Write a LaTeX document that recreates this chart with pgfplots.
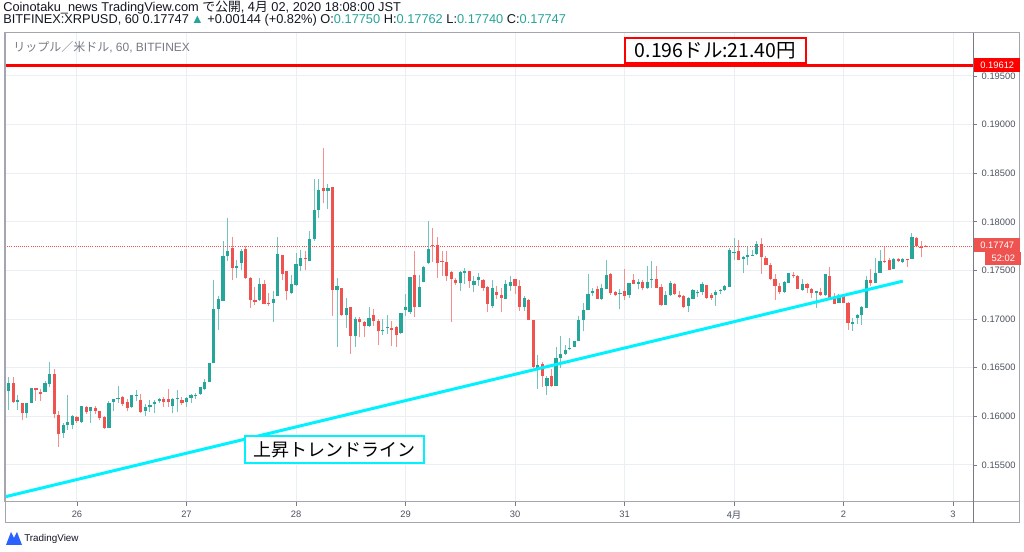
\documentclass[border=0pt]{standalone}
\usepackage{fontspec}
\setmainfont{Liberation Sans}
\newfontfamily\cjk{Noto Sans CJK JP}
\usepackage{pgfplots}
\usepackage{pgfplotstable}
\pgfplotsset{compat=1.18}
\definecolor{tvgreen}{HTML}{26A69A}
\definecolor{tvred}{HTML}{EF5350}
\definecolor{gridc}{HTML}{EAEFF4}
\definecolor{framec}{HTML}{A3A6AF}
\definecolor{axc}{HTML}{787B86}
\definecolor{txtc}{HTML}{131722}
\definecolor{lblc}{HTML}{4C525E}
\definecolor{tvcyan}{HTML}{00F2FF}
\definecolor{tvblue}{HTML}{2962FF}
\pgfplotstableread{
h O H L C
-15 0.16262 0.16402 0.16070 0.16343
-14 0.16343 0.16402 0.16140 0.16147
-13 0.16150 0.16220 0.16070 0.16168
-12 0.16133 0.16140 0.15958 0.16035
-11 0.16035 0.16140 0.15982 0.16133
-10 0.16133 0.16290 0.16133 0.16290
-9 0.16290 0.16290 0.16157 0.16273
-8 0.16255 0.16280 0.16157 0.16227
-7 0.16255 0.16360 0.16255 0.16343
-6 0.16332 0.16559 0.16297 0.16437
-5 0.16437 0.16490 0.15982 0.16028
-4 0.16017 0.16052 0.15685 0.15815
-3 0.15825 0.15930 0.15780 0.15906
-2 0.15906 0.16217 0.15860 0.15937
-1 0.15912 0.16017 0.15867 0.16000
0 0.15989 0.16000 0.15930 0.15947
1 0.15937 0.16105 0.15930 0.16105
2 0.16098 0.16105 0.16028 0.16042
3 0.16059 0.16094 0.15930 0.16094
4 0.16087 0.16105 0.16028 0.16059
5 0.16052 0.16052 0.15958 0.15982
6 0.15992 0.16000 0.15874 0.15885
7 0.15885 0.16157 0.15885 0.16140
8 0.16147 0.16182 0.16052 0.16182
9 0.16182 0.16308 0.16140 0.16192
10 0.16203 0.16210 0.16105 0.16129
11 0.16150 0.16175 0.16052 0.16087
12 0.16094 0.16217 0.16087 0.16217
13 0.16206 0.16269 0.16157 0.16217
14 0.16164 0.16227 0.16035 0.16042
15 0.16052 0.16122 0.16000 0.16094
16 0.16098 0.16164 0.16042 0.16115
17 0.16122 0.16164 0.16035 0.16147
18 0.16157 0.16192 0.16140 0.16182
19 0.16176 0.16203 0.16101 0.16152
20 0.16176 0.16278 0.16101 0.16152
21 0.16111 0.16186 0.16032 0.16179
22 0.16179 0.16271 0.16049 0.16193
23 0.16169 0.16196 0.16118 0.16142
24 0.16152 0.16203 0.16101 0.16193
25 0.16193 0.16230 0.16135 0.16217
26 0.16210 0.16237 0.16176 0.16220
27 0.16230 0.16305 0.16220 0.16299
28 0.16278 0.16381 0.16271 0.16357
29 0.16350 0.16551 0.16350 0.16544
30 0.16544 0.17404 0.16544 0.17107
31 0.17101 0.17234 0.16892 0.17210
32 0.17186 0.17807 0.17186 0.17647
33 0.17647 0.18036 0.17602 0.17698
34 0.17732 0.17841 0.17404 0.17527
35 0.17524 0.17609 0.17425 0.17541
36 0.17578 0.17722 0.17507 0.17705
37 0.17722 0.17756 0.17415 0.17425
38 0.17425 0.17432 0.17114 0.17193
39 0.17193 0.17329 0.17142 0.17179
40 0.17193 0.17425 0.17186 0.17363
41 0.17363 0.17398 0.17152 0.17159
42 0.17166 0.17268 0.17135 0.17152
43 0.17166 0.17288 0.16971 0.17203
44 0.17234 0.17848 0.17234 0.17671
45 0.17654 0.17654 0.17404 0.17459
46 0.17490 0.17490 0.17193 0.17285
47 0.17268 0.17449 0.17254 0.17357
48 0.17346 0.17681 0.17340 0.17568
49 0.17548 0.17715 0.17493 0.17626
50 0.17626 0.17695 0.17500 0.17613
51 0.17596 0.17910 0.17596 0.17824
52 0.17824 0.18445 0.17807 0.18125
53 0.18121 0.18439 0.18036 0.18326
54 0.18353 0.18763 0.18189 0.18312
55 0.18312 0.18394 0.18131 0.18353
56 0.18362 0.18362 0.17034 0.17298
57 0.17298 0.17421 0.16716 0.17339
58 0.17318 0.17318 0.17034 0.17044
59 0.17044 0.17212 0.16904 0.17110
60 0.17120 0.17127 0.16640 0.16829
61 0.16829 0.17017 0.16716 0.17000
62 0.17000 0.17024 0.16812 0.16966
63 0.16973 0.16983 0.16812 0.16931
64 0.16931 0.17120 0.16921 0.17007
65 0.17041 0.17103 0.16931 0.16983
66 0.16976 0.17000 0.16733 0.16873
67 0.16873 0.17000 0.16836 0.16890
68 0.16904 0.17044 0.16846 0.16914
69 0.16904 0.16983 0.16726 0.16887
70 0.16921 0.16931 0.16716 0.16839
71 0.16853 0.17062 0.16846 0.17062
72 0.17096 0.17257 0.17034 0.17124
73 0.17069 0.17435 0.17052 0.17435
74 0.17455 0.17702 0.17017 0.17120
75 0.17127 0.17455 0.17120 0.17325
76 0.17377 0.17548 0.17377 0.17531
77 0.17572 0.18010 0.17565 0.17719
78 0.17764 0.17935 0.17582 0.17753
79 0.17760 0.17839 0.17421 0.17572
80 0.17599 0.17702 0.17445 0.17589
81 0.17589 0.17695 0.17394 0.17445
82 0.17479 0.17496 0.16966 0.17411
83 0.17401 0.17421 0.17353 0.17366
84 0.17366 0.17490 0.17291 0.17479
85 0.17469 0.17524 0.17360 0.17497
86 0.17497 0.17497 0.17318 0.17394
87 0.17353 0.17445 0.17274 0.17394
88 0.17401 0.17469 0.17342 0.17428
89 0.17401 0.17411 0.17291 0.17318
90 0.17332 0.17342 0.17069 0.17154
91 0.17136 0.17401 0.17119 0.17316
92 0.17282 0.17340 0.17204 0.17248
93 0.17248 0.17323 0.17068 0.17221
94 0.17204 0.17398 0.17204 0.17357
95 0.17340 0.17442 0.17289 0.17384
96 0.17408 0.17408 0.17262 0.17340
97 0.17340 0.17398 0.17085 0.17126
98 0.17126 0.17238 0.17085 0.17214
99 0.17197 0.17204 0.16990 0.16990
100 0.16990 0.16990 0.16500 0.16507
101 0.16500 0.16626 0.16286 0.16531
102 0.16541 0.16558 0.16303 0.16412
103 0.16310 0.16412 0.16218 0.16398
104 0.16412 0.16490 0.16303 0.16310
105 0.16310 0.16711 0.16310 0.16602
106 0.16599 0.16830 0.16497 0.16643
107 0.16643 0.16738 0.16626 0.16677
108 0.16694 0.16806 0.16677 0.16704
109 0.16718 0.16779 0.16711 0.16772
110 0.16779 0.17027 0.16779 0.16993
111 0.16993 0.17170 0.16874 0.17092
112 0.17092 0.17459 0.17092 0.17262
113 0.17269 0.17323 0.17238 0.17289
114 0.17306 0.17340 0.17204 0.17204
115 0.17204 0.17364 0.17194 0.17316
116 0.17306 0.17612 0.17306 0.17449
117 0.17459 0.17476 0.17248 0.17272
118 0.17279 0.17289 0.17238 0.17248
119 0.17255 0.17306 0.17102 0.17272
120 0.17289 0.17510 0.17194 0.17238
121 0.17248 0.17374 0.17221 0.17374
122 0.17398 0.17459 0.17357 0.17364
123 0.17357 0.17408 0.17306 0.17384
124 0.17384 0.17398 0.17296 0.17316
125 0.17316 0.17544 0.17306 0.17384
126 0.17398 0.17602 0.17323 0.17408
127 0.17415 0.17544 0.17323 0.17323
128 0.17330 0.17357 0.17136 0.17143
129 0.17143 0.17289 0.17143 0.17245
130 0.17245 0.17391 0.17238 0.17374
131 0.17364 0.17367 0.17245 0.17255
132 0.17248 0.17289 0.17221 0.17231
133 0.17238 0.17245 0.17119 0.17126
134 0.17136 0.17228 0.17075 0.17221
135 0.17211 0.17306 0.17211 0.17299
136 0.17265 0.17299 0.17231 0.17279
137 0.17282 0.17381 0.17248 0.17357
138 0.17347 0.17347 0.17204 0.17221
139 0.17245 0.17272 0.17197 0.17221
140 0.17245 0.17299 0.17136 0.17282
141 0.17289 0.17306 0.17255 0.17299
142 0.17296 0.17347 0.17289 0.17340
143 0.17333 0.17731 0.17333 0.17714
144 0.17680 0.17833 0.17612 0.17694
145 0.17697 0.17816 0.17605 0.17612
146 0.17619 0.17653 0.17469 0.17639
147 0.17636 0.17741 0.17551 0.17656
148 0.17653 0.17714 0.17649 0.17663
149 0.17673 0.17799 0.17663 0.17775
150 0.17775 0.17833 0.17466 0.17636
151 0.17629 0.17646 0.17551 0.17551
152 0.17561 0.17578 0.17398 0.17408
153 0.17408 0.17459 0.17197 0.17340
154 0.17340 0.17374 0.17255 0.17279
155 0.17279 0.17391 0.17272 0.17381
156 0.17374 0.17476 0.17374 0.17469
157 0.17456 0.17483 0.17425 0.17442
158 0.17442 0.17449 0.17306 0.17306
159 0.17299 0.17415 0.17289 0.17357
160 0.17357 0.17374 0.17272 0.17323
161 0.17313 0.17323 0.17221 0.17272
162 0.17272 0.17289 0.17119 0.17289
163 0.17279 0.17323 0.17238 0.17245
164 0.17245 0.17459 0.17238 0.17459
165 0.17442 0.17537 0.17204 0.17221
166 0.17221 0.17272 0.17153 0.17160
167 0.17163 0.17255 0.17163 0.17238
168 0.17245 0.17255 0.17163 0.17170
169 0.17170 0.17177 0.16891 0.16959
170 0.16949 0.17007 0.16881 0.16973
171 0.17007 0.17051 0.16949 0.17041
172 0.17044 0.17136 0.16939 0.17126
173 0.17119 0.17442 0.17109 0.17401
174 0.17401 0.17517 0.17340 0.17367
175 0.17367 0.17629 0.17367 0.17476
176 0.17476 0.17707 0.17476 0.17595
177 0.17602 0.17748 0.17578 0.17585
178 0.17612 0.17629 0.17500 0.17503
179 0.17510 0.17629 0.17510 0.17619
180 0.17622 0.17629 0.17585 0.17595
181 0.17585 0.17629 0.17578 0.17619
182 0.17622 0.17622 0.17537 0.17612
183 0.17622 0.17884 0.17622 0.17840
184 0.17833 0.17840 0.17741 0.17748
185 0.17741 0.17799 0.17636 0.17735
186 0.17750 0.17762 0.17740 0.17747
}\candles
\begin{document}
\begin{tikzpicture}
\useasboundingbox (0,0) rectangle (768pt,414pt);
\fill[white] (0,0) rectangle (768pt,414pt);
\begin{axis}[
  at={(3.75pt,37.5pt)}, anchor=south west, scale only axis,
  width=726pt, height=351.75pt,
  xmin=-15.78, xmax=196.38, ymin=0.15119, ymax=0.19942,
  xtick={0,24,48,72,96,120,144,168,192},
  xticklabels={26,27,28,29,30,31,{\cjk 4月},2,3},
  ytick={0.155,0.16,0.165,0.17,0.175,0.18,0.185,0.19,0.195},
  scaled y ticks=false,
  yticklabel pos=right, ytick pos=right, xtick pos=left,
  tick align=outside, major tick length=3pt,
  tick style={axc, line width=0.6pt},
  yticklabel style={/pgf/number format/.cd, fixed, fixed zerofill, precision=5, assume math mode=true},
  ticklabel style={font=\fontsize{7}{8}\selectfont, text=lblc},
  grid=major, grid style={gridc, line width=0.75pt},
  axis line style={framec, line width=0.75pt},
]
% wicks
\addplot[draw=none, mark=none, forget plot,
  restrict expr to domain={\thisrow{C}-\thisrow{O}}{0:1},
  error bars/.cd, y dir=plus, y explicit, error mark=none,
  error bar style={draw=tvgreen!65!white, solid, line width=0.75pt}]
  table[x=h, y=L, y error plus expr={\thisrow{H}-\thisrow{L}}] {\candles};
\addplot[draw=none, mark=none, forget plot,
  restrict expr to domain={\thisrow{O}-\thisrow{C}}{0.000001:1},
  error bars/.cd, y dir=plus, y explicit, error mark=none,
  error bar style={draw=tvred!65!white, solid, line width=0.75pt}]
  table[x=h, y=L, y error plus expr={\thisrow{H}-\thisrow{L}}] {\candles};
% bodies
\addplot[draw=none, mark=none, forget plot,
  restrict expr to domain={\thisrow{C}-\thisrow{O}}{0:1},
  error bars/.cd, y dir=plus, y explicit, error mark=none,
  error bar style={draw=tvgreen, solid, line width=2.4pt}]
  table[x=h, y expr={min(\thisrow{O},\thisrow{C})}, y error plus expr={max(abs(\thisrow{C}-\thisrow{O}),0.00003)}] {\candles};
\addplot[draw=none, mark=none, forget plot,
  restrict expr to domain={\thisrow{O}-\thisrow{C}}{0.000001:1},
  error bars/.cd, y dir=plus, y explicit, error mark=none,
  error bar style={draw=tvred, solid, line width=2.4pt}]
  table[x=h, y expr={min(\thisrow{O},\thisrow{C})}, y error plus expr={max(abs(\thisrow{C}-\thisrow{O}),0.00003)}] {\candles};
% lines
\addplot[tvred, densely dotted, line width=0.6pt] coordinates {(-15.78,0.17747) (196.38,0.17747)};
\addplot[red, line width=2.25pt] coordinates {(-15.78,0.19612) (196.38,0.19612)};
\addplot[tvcyan, line width=2.25pt] coordinates {(-15.8,0.15172) (181,0.17390)};
\end{axis}
\begin{scope}[x=0.75pt, y=-0.75pt, shift={(0pt,414pt)}]
  % frame
  \draw[framec, line width=0.75pt] (5,33) rectangle (1019,523);
  \draw[framec, line width=0.75pt] (5,502) -- (1019,502);
  \draw[axc, line width=0.75pt] (973,33) -- (973,523);
  % header
  \node[anchor=west, inner sep=0, text=txtc, font=\fontsize{9.6}{11}\selectfont] at (3,8)
    {Coinotaku\_news TradingView.com {\cjk で公開}, {\cjk 4月} 02, 2020 18:08:00 JST};
  \node[anchor=west, inner sep=0, text=txtc, font=\fontsize{9.6}{11}\selectfont] at (3,20)
    {BITFINEX:XRPUSD, 60 0.17747\,\textcolor{tvgreen}{▲} +0.00144 (+0.82\%) O:\textcolor{tvgreen}{0.17750} H:\textcolor{tvgreen}{0.17762} L:\textcolor{tvgreen}{0.17740} C:\textcolor{tvgreen}{0.17747}};
  \node[anchor=west, inner sep=0, text=axc, font=\fontsize{9}{10}\selectfont] at (13,47)
    {{\cjk リップル／米ドル}, 60, BITFINEX};
  % annotation boxes
  \node[draw=red, fill=white, line width=1.1pt, minimum width=135.75pt, minimum height=18.75pt, inner sep=0,
        text=black, font=\cjk\fontsize{14.6}{16}\selectfont] at (715.5,50.5) {0.196ドル:21.40円};
  \node[draw=tvcyan, fill=white, line width=1.1pt, minimum width=134.25pt, minimum height=20.25pt, inner sep=0,
        text=black, font=\cjk\fontsize{13.5}{15}\selectfont] at (334.5,449.5) {上昇トレンドライン};
  % price labels
  \node[fill=red, text=white, minimum width=34.5pt, minimum height=10.5pt, inner sep=0, anchor=west,
        font=\fontsize{7}{8}\selectfont] at (974,65) {0.19612};
  \node[fill=tvred, text=white, minimum width=34.5pt, minimum height=10.5pt, inner sep=0, anchor=west,
        font=\fontsize{7}{8}\selectfont] at (974,245) {0.17747};
  \node[fill=tvred, text=white, minimum width=27pt, minimum height=10pt, inner sep=0, anchor=west,
        font=\fontsize{7}{8}\selectfont] at (985,258.5) {52:02};
  % logo
  \fill[tvblue] (6,545) -- (11,532) -- (14,538) -- (17,532) -- (22,545) -- cycle;
  \node[anchor=west, inner sep=0, text=txtc, font=\fontsize{7.4}{8}\selectfont] at (24,538.5) {TradingView};
\end{scope}
\end{tikzpicture}
\end{document}
